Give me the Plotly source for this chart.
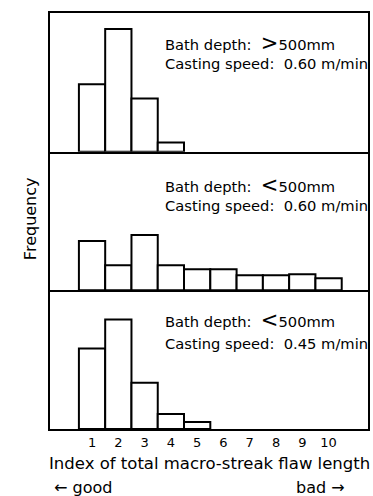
import plotly.graph_objects as go
from plotly.subplots import make_subplots

index = [1, 2, 3, 4, 5, 6, 7, 8, 9, 10]
tick_labels = ["1", "2", "3", "4", "5", "6", "7", "8", "9", "10"]
freq_deep_060 = [67, 122, 53, 9, 0, 0, 0, 0, 0, 0]
freq_shallow_060 = [49, 25, 55, 25, 21, 21, 15, 15, 16, 12]
freq_shallow_045 = [80, 109, 46, 15, 7, 0, 0, 0, 0, 0]

panel_labels = [
    ("Bath depth:  <span style='font-size:21px'>&gt;</span>500mm", "Casting speed:  0.60 m/min"),
    ("Bath depth:  <span style='font-size:21px'>&lt;</span>500mm", "Casting speed:  0.60 m/min"),
    ("Bath depth:  <span style='font-size:21px'>&lt;</span>500mm", "Casting speed:  0.45 m/min"),
]

FONT = "DejaVu Sans"
W, H = 373, 496
ML, MR, MT, MB = 50, 3, 13, 67

fig = make_subplots(rows=3, cols=1, shared_xaxes=True, vertical_spacing=0)
for r, vals in enumerate([freq_deep_060, freq_shallow_060, freq_shallow_045], start=1):
    xs = [i for i, v in zip(index, vals) if v > 0]
    ys = [v for v in vals if v > 0]
    fig.add_trace(go.Bar(x=xs, y=ys, width=1.0,
                         marker=dict(color="white", line=dict(color="black", width=2)),
                         showlegend=False, hoverinfo="skip"), row=r, col=1)
    fig.update_yaxes(range=[0, 138], showticklabels=False, ticks="", showgrid=False,
                     zeroline=False, showline=True, mirror=True, linecolor="black",
                     linewidth=2, row=r, col=1)
    fig.update_xaxes(range=[-0.6, 11.5], showgrid=False, zeroline=False, showline=True,
                     mirror=(r == 1), linecolor="black", linewidth=2, ticks="",
                     row=r, col=1)

fig.update_xaxes(showticklabels=True, tickmode="array", tickvals=index, ticktext=tick_labels,
                 tickfont=dict(family=FONT, size=13, color="black"), row=3, col=1)

def py(p):
    return (H - MB - p) / (H - MT - MB)

def px(p):
    return (p - ML) / (W - ML - MR)

ann = []
line_y = [(43, 63), (185, 205), (320, 343)]
for (l1, l2), (y1, y2) in zip(panel_labels, line_y):
    for txt, yy in ((l1, y1), (l2, y2)):
        ann.append(dict(text=txt, xref="paper", yref="paper", x=px(164),
                        y=py(yy), xanchor="left", yanchor="middle", showarrow=False,
                        font=dict(family=FONT, size=14.7, color="black")))
ann.append(dict(text="Frequency", xref="paper", yref="paper", x=px(30),
                y=py(219), textangle=-90, xanchor="center", yanchor="middle", showarrow=False,
                font=dict(family=FONT, size=16, color="black")))
ann.append(dict(text="Index of total macro-streak flaw length", xref="paper", yref="paper",
                x=px(210), y=py(463), xanchor="center", yanchor="middle",
                showarrow=False, font=dict(family=FONT, size=16.5, color="black")))
ann.append(dict(text="← good", xref="paper", yref="paper", x=px(52),
                y=py(487), xanchor="left", yanchor="middle", showarrow=False,
                font=dict(family=FONT, size=16, color="black")))
ann.append(dict(text="bad →", xref="paper", yref="paper", x=px(349),
                y=py(487), xanchor="right", yanchor="middle", showarrow=False,
                font=dict(family=FONT, size=16, color="black")))

fig.update_layout(width=W, height=H, margin=dict(l=ML, r=MR, t=MT, b=MB),
                  paper_bgcolor="white", plot_bgcolor="white", bargap=0,
                  annotations=ann, font=dict(family=FONT, color="black"))

fig.write_html("out.html", config={"displayModeBar": False, "staticPlot": True},
               post_script="document.body.style.margin='0';document.body.style.overflow='hidden';"
                           "document.documentElement.style.overflow='hidden';")
